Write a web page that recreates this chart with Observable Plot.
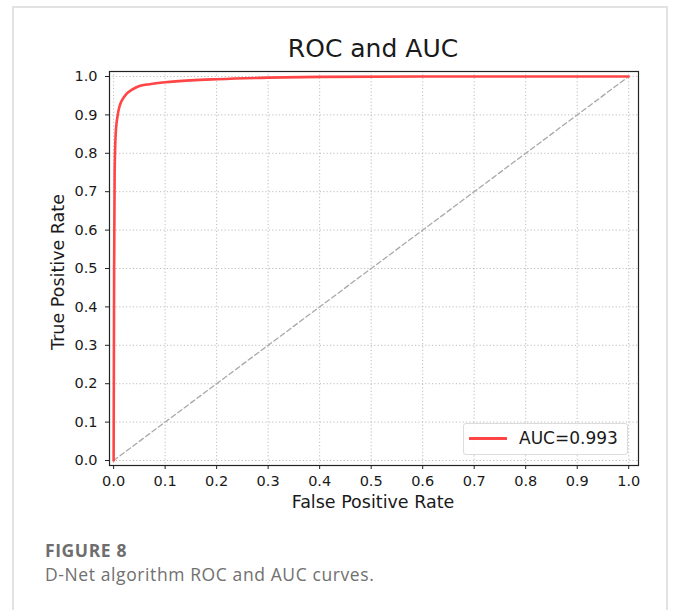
<!DOCTYPE html>
<html>
<head>
<meta charset="utf-8">
<script src="https://cdn.jsdelivr.net/npm/d3@7"></script>
<script src="https://cdn.jsdelivr.net/npm/@observablehq/plot@0.6"></script>
<style>
  html, body { margin: 0; padding: 0; background: #fff; }
  #page { position: relative; width: 680px; height: 610px; overflow: hidden; }
  #border { position: absolute; left: 12px; top: 6px; width: 656px; height: 620px;
            border: 2px solid #e2e2e2; box-sizing: border-box; }
  #chart { position: absolute; left: 0; top: 0; }
  .lbl { position: absolute; font-family: "DejaVu Sans", sans-serif; color: #1a1a1a; white-space: nowrap; }
  #title { left: 0; width: 746px; text-align: center; top: 34px; font-size: 25px; }
  #xlabel { left: 0; width: 746px; text-align: center; top: 492px; font-size: 17.5px; }
  #ylabel { left: 58px; top: 272px; font-size: 17.5px; transform: translate(-50%, -50%) rotate(-90deg); }
  #legend { position: absolute; left: 463px; top: 423px; width: 165px; height: 32px;
            border: 1px solid #dcdcdc; border-radius: 3px; background: rgba(255,255,255,0.85); box-sizing: border-box; }
  #legline { position: absolute; left: 5px; top: 13px; width: 38px; height: 2.5px; background: #ff4545; }
  #legtext { position: absolute; left: 55px; top: 4px; font-size: 17px; font-family: "DejaVu Sans", sans-serif; color: #1a1a1a; }
  .cap { position: absolute; left: 45px; font-family: "Open Sans", sans-serif; color: #6e6e6e; white-space: nowrap; }
  #fig { top: 538px; font-size: 17.5px; font-weight: bold; letter-spacing: 0.6px; }
  #desc { top: 562px; font-size: 17.5px; letter-spacing: 0.6px; color: #707070; }
  #chart svg text { font-family: "DejaVu Sans", sans-serif !important; font-size: 14.5px !important; fill: #1a1a1a; }
</style>
</head>
<body>
<div id="page">
  <div id="border"></div>
  <div id="chart"></div>
  <div class="lbl" id="title">ROC and AUC</div>
  <div class="lbl" id="xlabel">False Positive Rate</div>
  <div class="lbl" id="ylabel">True Positive Rate</div>
  <div id="legend"><div id="legline"></div><div id="legtext">AUC=0.993</div></div>
  <div class="cap" id="fig">FIGURE 8</div>
  <div class="cap" id="desc">D-Net algorithm ROC and AUC curves.</div>
</div>
<script>
// ROC curve
const fpr = [0, 0.001, 0.002, 0.004, 0.008, 0.012, 0.017, 0.025, 0.035, 0.05, 0.07, 0.1, 0.15, 0.2, 0.3, 0.4, 0.6, 1.0];
const tpr = [0, 0.50, 0.75, 0.85, 0.90, 0.925, 0.94, 0.955, 0.965, 0.975, 0.98, 0.985, 0.99, 0.993, 0.997, 0.999, 1.0, 1.0];
// chance diagonal
const chanceX = [0, 1];
const chanceY = [0, 1];
// ticks
const ticks = [0, 0.1, 0.2, 0.3, 0.4, 0.5, 0.6, 0.7, 0.8, 0.9, 1.0];

const roc = fpr.map((x, i) => ({x, y: tpr[i]}));
const chance = chanceX.map((x, i) => ({x, y: chanceY[i]}));

const chart = Plot.plot({
  width: 680,
  height: 530,
  marginLeft: 109,
  marginRight: 42,
  marginTop: 71,
  marginBottom: 65,
  style: { fontFamily: "DejaVu Sans, sans-serif", fontSize: "14.5px", color: "#1a1a1a", background: "transparent" },
  x: { domain: [-0.008, 1.019] },
  y: { domain: [-0.013, 1.013] },
  marks: [
    Plot.gridX(ticks, { stroke: "#b5b5b5", strokeOpacity: 1, strokeDasharray: "1.2,2.2", strokeWidth: 0.9 }),
    Plot.gridY(ticks, { stroke: "#b5b5b5", strokeOpacity: 1, strokeDasharray: "1.2,2.2", strokeWidth: 0.9 }),
    Plot.line(chance, { x: "x", y: "y", stroke: "#a8a8a8", strokeWidth: 1.3, strokeDasharray: "5,3" }),
    Plot.line(roc, { x: "x", y: "y", stroke: "#ff4545", strokeWidth: 2.6, curve: "monotone-x" }),
    Plot.frame({ stroke: "#222", strokeWidth: 1.2 }),
    Plot.axisX(ticks, { tickFormat: d3.format(".1f"), tickSize: 4, tickPadding: 6, label: null, stroke: "#222", fontSize: 14.5 }),
    Plot.axisY(ticks, { tickFormat: d3.format(".1f"), tickSize: 4, tickPadding: 8, label: null, stroke: "#222", fontSize: 14.5 })
  ]
});
document.getElementById("chart").appendChild(chart);
</script>
</body>
</html>
